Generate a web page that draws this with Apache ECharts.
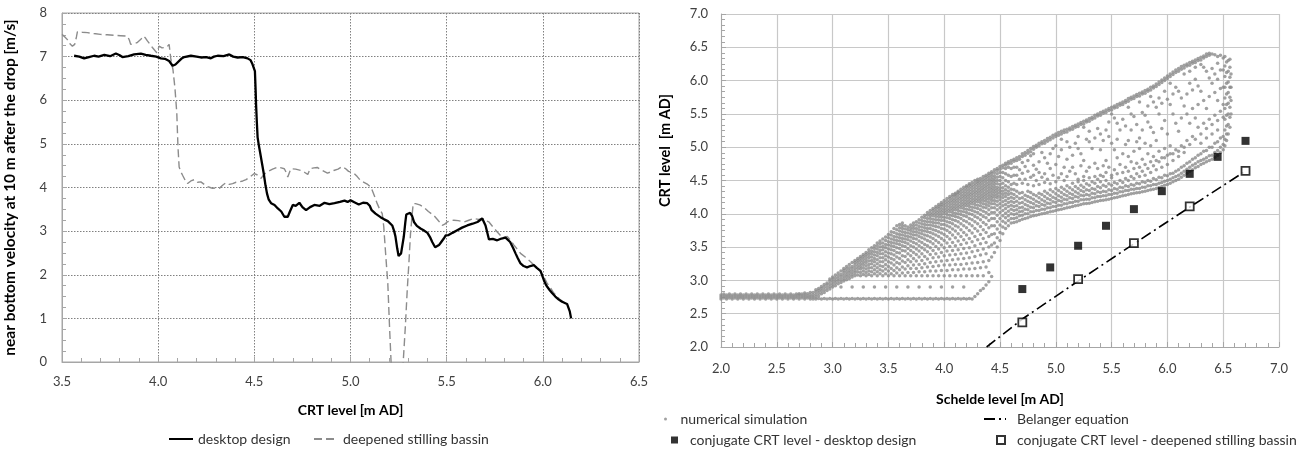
<!DOCTYPE html>
<html><head><meta charset="utf-8">
<script src="https://cdn.jsdelivr.net/npm/echarts@6/dist/echarts.min.js"></script>
<style>html,body{margin:0;padding:0;background:#fff}#c{width:1311px;height:454px}</style>
</head><body><div id="c"></div>
<script>
// ---------- Left chart data ----------
const desktopCRT = [3.563,3.59,3.615,3.64,3.667,3.69,3.72,3.75,3.78,3.80,3.814,3.845,3.875,3.91,3.935,3.962,3.99,4.014,4.035,4.057,4.075,4.09,4.10,4.12,4.135,4.17,4.2,4.222,4.25,4.274,4.29,4.309,4.34,4.37,4.39,4.413,4.44,4.465,4.48,4.49,4.503,4.507,4.509,4.513,4.517,4.524,4.531,4.54,4.549,4.558,4.566,4.575,4.587,4.605,4.622,4.64,4.656,4.665,4.674,4.685,4.70,4.715,4.734,4.75,4.769,4.79,4.812,4.84,4.865,4.89,4.917,4.945,4.969,4.985,5.0,5.02,5.043,5.065,5.087,5.1,5.11,5.13,5.156,5.175,5.194,5.217,5.227,5.234,5.243,5.25,5.263,5.277,5.285,5.29,5.31,5.32,5.33,5.345,5.364,5.38,5.4,5.415,5.425,5.44,5.46,5.47,5.485,5.495,5.51,5.53,5.555,5.58,5.607,5.635,5.66,5.685,5.702,5.712,5.72,5.74,5.763,5.785,5.806,5.83,5.845,5.858,5.87,5.884,5.9,5.918,5.935,5.953,5.97,5.988,6.005,6.015,6.022,6.035,6.048,6.065,6.083,6.1,6.126,6.14,6.147];
const desktopVel = [7.02,7.0,6.96,6.99,7.02,7.0,7.04,7.01,7.07,7.03,6.99,7.01,7.05,7.07,7.04,7.02,7.0,6.96,6.95,6.90,6.79,6.82,6.86,6.95,6.99,7.02,7.0,6.98,6.99,6.96,7.0,7.02,7.01,7.05,7.0,6.98,6.99,6.96,6.92,6.83,6.67,6.2,5.91,5.5,5.15,4.95,4.78,4.55,4.32,4.05,3.86,3.72,3.64,3.6,3.52,3.45,3.33,3.3,3.33,3.45,3.6,3.58,3.65,3.55,3.48,3.55,3.6,3.58,3.65,3.62,3.64,3.67,3.70,3.67,3.71,3.66,3.61,3.65,3.64,3.58,3.48,3.4,3.32,3.27,3.23,3.13,3.0,2.87,2.6,2.43,2.49,2.87,3.2,3.38,3.42,3.35,3.21,3.12,3.06,3.02,2.96,2.85,2.75,2.63,2.68,2.74,2.83,2.9,2.91,2.96,3.02,3.08,3.13,3.17,3.21,3.29,3.13,2.95,2.81,2.82,2.79,2.83,2.85,2.75,2.62,2.49,2.38,2.26,2.2,2.17,2.2,2.22,2.15,2.09,1.88,1.78,1.73,1.65,1.58,1.5,1.43,1.38,1.33,1.16,1.0];
const deepenedCRT = [3.50,3.515,3.528,3.54,3.554,3.566,3.575,3.58,3.605,3.632,3.665,3.70,3.735,3.77,3.805,3.84,3.85,3.857,3.875,3.89,3.91,3.924,3.935,3.944,3.958,3.97,3.983,3.993,4.005,4.02,4.03,4.045,4.057,4.066,4.077,4.087,4.092,4.097,4.10,4.103,4.106,4.109,4.118,4.127,4.14,4.153,4.17,4.188,4.205,4.222,4.24,4.257,4.27,4.283,4.3,4.318,4.335,4.352,4.37,4.387,4.405,4.422,4.44,4.457,4.48,4.50,4.52,4.535,4.55,4.569,4.595,4.622,4.64,4.656,4.665,4.674,4.683,4.69,4.715,4.743,4.76,4.778,4.79,4.81,4.827,4.85,4.88,4.9,4.913,4.935,4.957,4.975,4.99,5.017,5.035,5.052,5.07,5.087,5.1,5.11,5.125,5.139,5.152,5.165,5.173,5.184,5.194,5.203,5.211,5.22,5.265,5.274,5.285,5.295,5.304,5.312,5.32,5.326,5.338,5.36,5.381,5.405,5.433,5.455,5.477,5.49,5.503,5.52,5.537,5.56,5.59,5.615,5.64,5.665,5.685,5.70,5.72,5.74,5.763,5.78,5.79,5.815,5.83,5.85,5.868,5.884,5.91,5.936,5.96,5.988,6.005,6.022,6.04,6.057,6.075,6.09,6.11,6.126];
const deepenedVel = [7.51,7.45,7.39,7.3,7.24,7.28,7.45,7.57,7.56,7.55,7.53,7.51,7.50,7.49,7.48,7.47,7.38,7.28,7.3,7.32,7.4,7.47,7.42,7.36,7.28,7.21,7.14,7.09,7.24,7.2,7.17,7.22,7.28,6.94,6.7,6.29,6.0,5.69,5.3,4.93,4.7,4.47,4.36,4.28,4.17,4.09,4.15,4.18,4.12,4.13,4.07,4.02,4.0,3.98,3.99,3.98,4.05,4.11,4.07,4.09,4.12,4.13,4.15,4.18,4.25,4.32,4.28,4.21,4.3,4.36,4.42,4.47,4.45,4.43,4.35,4.24,4.35,4.43,4.42,4.39,4.35,4.30,4.43,4.45,4.46,4.4,4.33,4.36,4.39,4.42,4.48,4.43,4.37,4.33,4.25,4.16,4.12,4.08,4.03,3.97,3.8,3.63,3.5,3.40,3.10,2.4,1.80,0.8,0,-0.6,-0.6,0,0.8,1.65,2.3,2.94,3.35,3.63,3.63,3.6,3.55,3.45,3.36,3.25,3.13,3.16,3.21,3.24,3.25,3.24,3.21,3.25,3.29,3.27,3.29,3.25,3.21,3.1,2.98,2.9,2.85,2.88,2.8,2.68,2.58,2.49,2.4,2.30,2.2,2.07,1.95,1.81,1.7,1.58,1.5,1.43,1.37,1.31];

// ---------- Right chart data ----------
// numerical simulation, read column by column: [Schelde level, CRT levels seen at that Schelde level...]
const simColumns = [
[2.000,2.72,2.75,2.78],[2.025,2.735,2.765,2.795],[2.050,2.72,2.75,2.78],[2.075,2.735,2.765,2.795],
[2.100,2.72,2.75,2.78],[2.125,2.735,2.765,2.795],[2.150,2.72,2.75,2.78],[2.175,2.735,2.765,2.795],
[2.200,2.72,2.75,2.78],[2.225,2.735,2.765,2.795],[2.250,2.72,2.75,2.78],[2.275,2.735,2.765,2.795],
[2.300,2.72,2.75,2.78],[2.325,2.735,2.765,2.795],[2.350,2.72,2.75,2.78],[2.375,2.735,2.765,2.795],
[2.400,2.72,2.75,2.78],[2.425,2.735,2.765,2.795],[2.450,2.72,2.75,2.78],[2.475,2.735,2.765,2.795],
[2.500,2.72,2.75,2.78],[2.525,2.735,2.765,2.795],[2.550,2.72,2.75,2.78],[2.575,2.735,2.765,2.795],
[2.600,2.72,2.75,2.78],[2.625,2.735,2.765,2.795],[2.650,2.72,2.75,2.78],[2.675,2.735,2.765,2.795],
[2.700,2.72,2.75,2.78,2.80],[2.725,2.735,2.765,2.795],[2.750,2.72,2.75,2.78,2.81],[2.775,2.735,2.765,2.80],
[2.800,2.72,2.75,2.78,2.82],[2.825,2.72,2.75,2.78,2.82],
[2.85,2.72,2.75,2.79,2.83,2.86],[2.875,2.73,2.77,2.81,2.85,2.88],
[2.9,2.72,2.8,2.84,2.88,2.91],[2.925,2.73,2.82,2.86,2.9,2.94],
[2.95,2.72,2.85,2.89,2.93,2.96],[2.975,2.73,2.87,2.91,2.95,2.99,3.02],
[3.0,2.72,2.9,2.94,2.98,3.02,3.05],[3.025,2.73,2.92,2.96,3.0,3.04,3.08],
[3.05,2.72,2.95,2.99,3.03,3.07,3.11],[3.075,2.73,2.9,2.97,3.01,3.05,3.09,3.14],
[3.1,2.72,2.99,3.03,3.07,3.11,3.15,3.18],[3.125,2.73,3.01,3.05,3.09,3.13,3.17,3.21],
[3.15,2.72,3.03,3.07,3.11,3.15,3.19,3.24],[3.175,2.73,2.9,3.05,3.09,3.13,3.17,3.21,3.27],
[3.2,2.72,3.07,3.11,3.15,3.19,3.23,3.27,3.3],[3.225,2.73,3.08,3.13,3.18,3.22,3.26,3.3,3.33],
[3.25,2.72,3.07,3.12,3.17,3.21,3.25,3.29,3.33,3.36],[3.275,2.73,2.9,3.09,3.14,3.19,3.24,3.28,3.32,3.36,3.39],
[3.3,2.72,3.07,3.12,3.17,3.22,3.27,3.31,3.35,3.39,3.42],[3.325,2.73,3.09,3.14,3.19,3.24,3.29,3.34,3.38,3.42,3.46],
[3.35,2.72,3.07,3.13,3.19,3.25,3.3,3.35,3.4,3.44,3.49],[3.375,2.73,2.9,3.1,3.16,3.22,3.28,3.33,3.38,3.43,3.48,3.52],
[3.4,2.72,3.07,3.13,3.19,3.25,3.31,3.37,3.42,3.47,3.52,3.56],[3.425,2.73,3.1,3.16,3.22,3.28,3.34,3.4,3.45,3.5,3.55,3.59],
[3.45,2.72,3.07,3.14,3.21,3.28,3.34,3.4,3.46,3.51,3.56,3.62],[3.475,2.73,2.9,3.1,3.17,3.24,3.31,3.37,3.43,3.49,3.54,3.6,3.65],
[3.5,2.72,3.07,3.14,3.21,3.28,3.35,3.41,3.47,3.53,3.58,3.64,3.69],[3.525,2.73,3.1,3.18,3.26,3.33,3.4,3.46,3.52,3.57,3.62,3.68,3.73],
[3.55,2.72,3.07,3.15,3.23,3.31,3.38,3.45,3.51,3.56,3.61,3.66,3.72,3.78],[3.575,2.73,2.9,3.11,3.19,3.27,3.35,3.42,3.49,3.55,3.6,3.65,3.7,3.76,3.82],
[3.6,2.72,3.07,3.16,3.25,3.33,3.41,3.48,3.54,3.59,3.64,3.69,3.74,3.79,3.84],[3.625,2.73,3.11,3.2,3.29,3.37,3.45,3.52,3.58,3.63,3.68,3.73,3.78,3.82,3.86],
[3.65,2.72,3.07,3.17,3.27,3.36,3.44,3.51,3.57,3.62,3.67,3.72,3.77,3.82],[3.675,2.73,2.9,3.12,3.22,3.31,3.4,3.48,3.55,3.61,3.66,3.71,3.76,3.8],
[3.7,2.72,3.07,3.18,3.28,3.37,3.45,3.52,3.59,3.65,3.7,3.75,3.79,3.83],[3.725,2.73,3.12,3.23,3.33,3.42,3.5,3.57,3.63,3.68,3.73,3.78,3.82,3.86],
[3.75,2.72,3.07,3.18,3.29,3.39,3.47,3.55,3.62,3.68,3.73,3.78,3.83,3.88],[3.775,2.73,2.9,3.13,3.24,3.35,3.44,3.52,3.59,3.66,3.71,3.76,3.81,3.86,3.91],
[3.8,2.72,3.07,3.19,3.3,3.4,3.49,3.57,3.64,3.7,3.75,3.8,3.85,3.9,3.95],[3.825,2.73,3.13,3.25,3.36,3.46,3.54,3.62,3.68,3.74,3.79,3.84,3.89,3.94,3.98],
[3.85,2.72,3.07,3.2,3.32,3.43,3.52,3.6,3.67,3.73,3.78,3.83,3.88,3.93,3.98,4.02],[3.875,2.73,2.9,3.14,3.27,3.39,3.49,3.58,3.65,3.72,3.78,3.83,3.88,3.93,3.97,4.01,4.05],
[3.9,2.72,3.07,3.21,3.34,3.45,3.55,3.63,3.7,3.76,3.82,3.87,3.92,3.97,4.01,4.05,4.08],[3.925,2.73,3.14,3.28,3.4,3.51,3.6,3.68,3.75,3.81,3.86,3.91,3.96,4.0,4.04,4.08,4.11],
[3.95,2.72,3.07,3.22,3.35,3.47,3.57,3.66,3.73,3.8,3.86,3.91,3.96,4.0,4.04,4.08,4.11,4.14],[3.975,2.73,2.9,3.15,3.29,3.42,3.53,3.63,3.71,3.78,3.84,3.9,3.95,3.99,4.03,4.07,4.11,4.14,4.17],
[4.0,2.72,3.07,3.23,3.37,3.49,3.6,3.69,3.77,3.84,3.9,3.95,4.0,4.04,4.08,4.12,4.16,4.2],[4.025,2.73,3.15,3.3,3.44,3.56,3.66,3.75,3.82,3.88,3.94,3.99,4.03,4.07,4.11,4.15,4.19,4.23],
[4.05,2.72,3.07,3.23,3.38,3.51,3.62,3.72,3.8,3.87,3.93,3.98,4.03,4.07,4.11,4.15,4.19,4.23,4.26],[4.075,2.73,2.9,3.16,3.31,3.45,3.57,3.68,3.77,3.85,3.91,3.97,4.02,4.06,4.1,4.14,4.18,4.22,4.26,4.29],
[4.1,2.72,3.07,3.24,3.39,3.52,3.64,3.74,3.82,3.9,3.96,4.01,4.06,4.1,4.14,4.18,4.22,4.26,4.29,4.31],[4.125,2.73,3.16,3.32,3.46,3.59,3.7,3.8,3.88,3.95,4.0,4.05,4.09,4.13,4.17,4.21,4.25,4.29,4.32,4.34],
[4.15,2.72,3.07,3.24,3.4,3.54,3.66,3.76,3.85,3.93,3.99,4.04,4.09,4.13,4.17,4.21,4.25,4.29,4.33,4.37],[4.175,2.73,2.9,3.17,3.33,3.48,3.61,3.72,3.82,3.9,3.97,4.03,4.08,4.12,4.16,4.2,4.24,4.28,4.32,4.36,4.4],
[4.2,2.72,3.07,3.25,3.41,3.56,3.68,3.79,3.88,3.96,4.02,4.07,4.12,4.16,4.2,4.24,4.28,4.32,4.36,4.4,4.42],[4.225,2.73,3.17,3.34,3.49,3.63,3.75,3.85,3.93,4.0,4.06,4.11,4.15,4.19,4.23,4.27,4.31,4.35,4.39,4.43,4.45],
[4.25,2.72,3.07,3.26,3.43,3.58,3.71,3.82,3.91,3.99,4.05,4.1,4.15,4.19,4.23,4.27,4.31,4.35,4.39,4.43,4.47],[4.275,2.76,3.18,3.36,3.52,3.66,3.78,3.88,3.96,4.03,4.09,4.14,4.18,4.22,4.26,4.3,4.34,4.38,4.42,4.46,4.5],
[4.3,2.8,3.07,3.27,3.45,3.61,3.74,3.85,3.94,4.02,4.08,4.13,4.18,4.22,4.26,4.3,4.34,4.38,4.42,4.46,4.49,4.52],[4.325,2.85,3.19,3.38,3.55,3.69,3.81,3.91,3.99,4.06,4.12,4.17,4.21,4.25,4.29,4.33,4.37,4.41,4.45,4.49,4.53],
[4.35,2.88,3.07,3.28,3.47,3.63,3.76,3.87,3.96,4.04,4.1,4.15,4.2,4.24,4.28,4.32,4.36,4.4,4.44,4.48,4.52,4.56],[4.375,2.93,3.2,3.4,3.57,3.72,3.84,3.94,4.02,4.09,4.14,4.19,4.23,4.27,4.31,4.35,4.39,4.43,4.47,4.51,4.55,4.58],
[4.4,2.98,3.12,3.3,3.5,3.66,3.79,3.9,3.99,4.06,4.12,4.17,4.22,4.26,4.3,4.34,4.38,4.42,4.46,4.5,4.54,4.58,4.61],[4.425,3.06,3.35,3.53,3.69,3.82,3.93,4.02,4.09,4.15,4.2,4.24,4.28,4.32,4.36,4.4,4.44,4.48,4.52,4.56,4.6,4.63],
[4.45,3.42,3.56,3.7,3.82,3.93,4.02,4.09,4.15,4.2,4.25,4.29,4.33,4.37,4.41,4.45,4.49,4.53,4.57,4.62,4.66],[4.475,3.5,3.64,3.77,3.88,3.98,4.06,4.13,4.19,4.24,4.28,4.32,4.36,4.4,4.45,4.5,4.55,4.6,4.65,4.68],
[4.5,3.6,3.72,3.83,3.93,4.02,4.09,4.15,4.21,4.26,4.31,4.35,4.39,4.44,4.5,4.56,4.62,4.67,4.71],[4.525,3.7,3.8,3.89,3.97,4.05,4.12,4.18,4.24,4.29,4.34,4.39,4.46,4.54,4.62,4.69,4.73],
[4.55,3.78,3.86,3.94,4.01,4.08,4.14,4.2,4.26,4.31,4.36,4.42,4.5,4.6,4.68,4.73,4.76],[4.575,3.82,3.9,3.97,4.04,4.11,4.17,4.23,4.29,4.34,4.4,4.48,4.58,4.7,4.75,4.78],
[4.6,3.86,3.93,4.0,4.07,4.13,4.19,4.25,4.31,4.37,4.44,4.56,4.68,4.76,4.8],[4.625,3.87,3.93,3.99,4.05,4.11,4.17,4.23,4.29,4.36,4.46,4.58,4.7,4.79,4.82],
[4.65,3.88,3.94,4.0,4.06,4.12,4.19,4.26,4.34,4.44,4.58,4.7,4.8,4.84],[4.675,3.9,3.97,4.03,4.09,4.16,4.23,4.31,4.52,4.66,4.82,4.86],
[4.7,3.92,3.98,4.04,4.1,4.17,4.24,4.32,4.46,4.61,4.77,4.86,4.9],[4.725,3.93,4.0,4.07,4.14,4.21,4.28,4.52,4.71,4.88,4.92],
[4.75,3.94,4.0,4.06,4.12,4.19,4.26,4.34,4.44,4.64,4.8,4.91,4.95],[4.775,3.96,4.03,4.1,4.17,4.24,4.32,4.55,4.87,4.93,4.98],
[4.8,3.97,4.03,4.09,4.15,4.22,4.29,4.42,4.58,4.73,4.9,4.97,5.01],[4.825,3.98,4.05,4.12,4.19,4.27,4.5,4.67,5.0,5.03],
[4.85,3.99,4.05,4.11,4.17,4.24,4.31,4.44,4.62,4.78,5.02,5.06],[4.875,4.0,4.07,4.14,4.21,4.29,4.55,4.92,5.05,5.08],
[4.9,4.01,4.07,4.13,4.19,4.26,4.34,4.47,4.6,4.84,5.06,5.1],[4.925,4.02,4.09,4.16,4.23,4.31,4.52,4.76,5.09,5.13],
[4.95,4.03,4.09,4.15,4.21,4.28,4.36,4.45,4.68,4.9,5.11,5.15],[4.975,4.04,4.11,4.18,4.25,4.33,4.58,4.98,5.14,5.18],
[5.0,4.05,4.11,4.17,4.23,4.3,4.38,4.48,4.74,5.02,5.16,5.2],[5.025,4.06,4.13,4.2,4.27,4.35,4.54,4.86,5.18,5.22],
[5.05,4.07,4.13,4.19,4.25,4.32,4.4,4.6,4.96,5.12,5.2,5.24],[5.075,4.08,4.15,4.22,4.29,4.37,4.5,4.7,5.22,5.26],
[5.1,4.09,4.15,4.21,4.27,4.34,4.42,4.56,4.82,5.08,5.23,5.27],[5.125,4.1,4.17,4.24,4.31,4.39,4.64,5.0,5.26,5.29],
[5.15,4.11,4.17,4.23,4.29,4.36,4.46,4.7,4.88,5.27,5.31],[5.175,4.12,4.19,4.26,4.33,4.41,4.6,5.06,5.3,5.33],
[5.2,4.13,4.19,4.25,4.31,4.38,4.48,4.52,4.98,5.16,5.31,5.35],[5.225,4.14,4.21,4.28,4.35,4.43,4.72,4.9,5.34,5.37],
[5.25,4.15,4.21,4.27,4.33,4.4,4.5,4.56,4.8,5.3,5.35,5.39],[5.275,4.155,4.22,4.29,4.36,4.45,4.64,5.12,5.38,5.41],
[5.3,4.16,4.22,4.28,4.35,4.43,4.54,4.7,5.08,5.24,5.39,5.43],[5.325,4.17,4.24,4.31,4.38,4.48,4.98,5.42,5.45],
[5.35,4.18,4.24,4.3,4.37,4.46,4.56,4.76,5.14,5.44,5.48],[5.375,4.19,4.26,4.33,4.41,4.52,4.68,5.28,5.47,5.5],
[5.4,4.2,4.26,4.32,4.39,4.48,4.58,4.96,5.2,5.48,5.52],[5.425,4.205,4.27,4.34,4.43,4.56,4.72,5.1,5.51,5.54],
[5.45,4.21,4.27,4.33,4.41,4.5,4.62,4.8,5.26,5.52,5.56],[5.475,4.22,4.29,4.36,4.45,4.7,5.16,5.38,5.55,5.58],
[5.5,4.23,4.29,4.35,4.43,4.54,4.58,5.06,5.5,5.56,5.6],[5.525,4.24,4.31,4.38,4.47,4.66,4.96,5.44,5.59,5.62],
[5.55,4.25,4.31,4.37,4.45,4.6,4.84,5.12,5.36,5.6,5.64],[5.575,4.26,4.33,4.4,4.5,4.74,5.26,5.63,5.66],
[5.6,4.27,4.33,4.39,4.47,4.62,4.9,5.42,5.64,5.68],[5.625,4.28,4.35,4.42,4.53,4.7,5.04,5.32,5.67,5.7],
[5.65,4.29,4.35,4.41,4.5,4.64,4.86,5.1,5.6,5.69,5.73],[5.675,4.3,4.37,4.44,4.56,4.78,5.26,5.5,5.72,5.75],
[5.7,4.31,4.37,4.43,4.53,4.68,4.94,5.46,5.73,5.77],[5.725,4.315,4.38,4.46,4.6,4.76,5.08,5.34,5.76,5.79],
[5.75,4.32,4.38,4.45,4.56,4.7,4.98,5.14,5.68,5.77,5.81],[5.775,4.33,4.4,4.48,4.64,4.82,5.26,5.52,5.8,5.83],
[5.8,4.34,4.4,4.47,4.58,4.74,5.06,5.48,5.81,5.85],[5.825,4.35,4.42,4.5,4.68,4.9,5.38,5.62,5.84,5.87],
[5.85,4.36,4.42,4.49,4.62,4.78,5.02,5.3,5.76,5.86,5.9],[5.875,4.37,4.44,4.53,4.72,4.86,5.22,5.68,5.89,5.92],
[5.9,4.38,4.44,4.51,4.66,4.8,5.1,5.6,5.91,5.95],[5.925,4.395,4.46,4.55,4.78,4.94,5.5,5.74,5.94,5.98],
[5.95,4.41,4.47,4.54,4.7,4.84,5.28,5.66,5.97,6.01],[5.975,4.43,4.49,4.58,4.84,4.98,5.4,5.84,6.0,6.04],
[6.0,4.44,4.5,4.57,4.74,4.88,5.2,5.72,6.03,6.07],[6.025,4.46,4.52,4.6,4.9,5.02,5.64,5.96,6.06,6.1],
[6.05,4.48,4.54,4.61,4.8,4.9,5.5,5.8,6.09,6.13],[6.075,4.5,4.56,4.64,4.96,5.36,5.9,6.12,6.16],
[6.1,4.52,4.58,4.66,4.86,4.94,5.24,5.84,6.14,6.18],[6.125,4.55,4.61,4.7,5.02,5.44,5.74,6.17,6.21],
[6.15,4.58,4.64,4.72,4.92,5.0,5.62,6.1,6.19,6.23],[6.175,4.61,4.67,4.76,5.1,5.5,5.8,6.22,6.25],
[6.2,4.64,4.7,4.78,5.04,5.36,5.96,6.14,6.23,6.27],[6.225,4.66,4.73,4.82,5.16,5.58,5.86,6.26,6.29],
[6.25,4.69,4.75,4.84,5.12,5.44,6.02,6.2,6.27,6.31],[6.275,4.71,4.78,4.88,5.3,5.64,5.92,6.3,6.33],
[6.3,4.74,4.8,4.9,5.06,5.2,5.84,6.24,6.31,6.35],[6.325,4.76,4.82,4.94,5.36,5.7,6.2,6.34,6.37],
[6.35,4.78,4.84,4.95,5.14,5.28,5.58,6.14,6.36,6.4],[6.375,4.8,4.87,5.0,5.42,5.76,6.04,6.38,6.41],
[6.4,4.82,4.88,5.0,5.2,5.34,5.96,6.18,6.4],[6.425,4.85,4.92,5.06,5.48,5.82,6.1,6.39],
[6.45,4.88,4.95,5.08,5.26,5.4,5.7,6.02,6.26,6.36],[6.475,4.92,5.0,5.14,5.54,5.88,6.16,6.38],
[6.5,4.96,5.04,5.16,5.45,5.64,5.9,6.16,6.34],[6.515,5.02,5.12,5.26,5.42,5.58,5.74,5.9,6.06,6.22,6.36],
[6.53,5.1,5.2,5.32,5.48,5.64,5.8,5.96,6.12,6.28],[6.545,5.2,5.34,5.5,5.66,5.82,5.98,6.14,6.3],
[6.56,5.3,5.45,5.6,5.75,5.9,6.05,6.2,6.32],[6.57,5.5,5.7,5.9,6.1]
];
const belangerSchelde = [4.38,4.7,5.2,5.7,6.2,6.68];
const belangerCRT     = [2.0,2.42,2.99,3.55,4.1,4.62];
const conjDesktopSchelde = [4.7,4.95,5.2,5.45,5.7,5.95,6.2,6.45,6.7];
const conjDesktopCRT     = [2.87,3.195,3.52,3.82,4.07,4.34,4.6,4.855,5.095];
const conjDeepSchelde = [4.7,5.2,5.7,6.2,6.7];
const conjDeepCRT     = [2.37,3.02,3.56,4.11,4.645];

// ---------- build ----------
const zip = (a, b) => a.map((v, i) => [v, b[i]]);
const simPoints = [];
simColumns.forEach(col => { for (let i = 1; i < col.length; i++) simPoints.push([col[0], col[i]]); });

const FONT = 'Lato, "Open Sans", "DejaVu Sans", sans-serif';
const fmt1 = v => v.toFixed(1);
const labelColor = '#404040';
const axisGray = '#a6a6a6';
const legendText = { fontSize: 14, color: '#333', fontFamily: FONT };

const chart = echarts.init(document.getElementById('c'));
chart.setOption({
  animation: false,
  textStyle: { fontFamily: FONT },
  grid: [
    { left: 62, top: 13, width: 577, height: 349, show: true, borderColor: axisGray, borderWidth: 1, backgroundColor: 'transparent' },
    { left: 721, top: 14, width: 558, height: 333 }
  ],
  xAxis: [
    { gridIndex: 0, type: 'value', min: 3.5, max: 6.5, interval: 0.5,
      name: 'CRT level [m AD]', nameLocation: 'middle', nameGap: 41,
      nameTextStyle: { fontWeight: 'bold', fontSize: 14, color: '#000', fontFamily: FONT },
      axisLine: { show: true, lineStyle: { color: axisGray } },
      axisTick: { show: true, inside: true, length: 5, lineStyle: { color: axisGray } },
      minorTick: { show: true, splitNumber: 5, length: 4, lineStyle: { color: axisGray } },
      axisLabel: { formatter: fmt1, margin: 13, fontSize: 13, color: labelColor, fontFamily: FONT },
      splitLine: { show: true, lineStyle: { color: '#808080', type: [1.5, 1.5], width: 1 } } },
    { gridIndex: 1, type: 'value', min: 2, max: 7, interval: 0.5,
      name: 'Schelde level [m AD]', nameLocation: 'middle', nameGap: 45,
      nameTextStyle: { fontWeight: 'bold', fontSize: 14, color: '#000', fontFamily: FONT },
      axisLine: { show: true, lineStyle: { color: axisGray } },
      axisTick: { show: true, inside: true, length: 5, lineStyle: { color: axisGray } },
      minorTick: { show: true, splitNumber: 5, length: 4, lineStyle: { color: axisGray } },
      axisLabel: { formatter: fmt1, margin: 15, fontSize: 13, color: labelColor, fontFamily: FONT },
      splitLine: { show: true, lineStyle: { color: '#c8c8c8', width: 1.2 } } }
  ],
  yAxis: [
    { gridIndex: 0, type: 'value', min: 0, max: 8, interval: 1,
      name: 'near bottom velocity at 10 m after the drop [m/s]', nameLocation: 'middle', nameGap: 44,
      nameTextStyle: { fontWeight: 'bold', fontSize: 15.5, color: '#000', fontFamily: FONT },
      axisLine: { show: true, lineStyle: { color: axisGray } },
      axisTick: { show: true, inside: true, length: 5, lineStyle: { color: axisGray } },
      minorTick: { show: true, splitNumber: 4, length: 4, lineStyle: { color: axisGray } },
      axisLabel: { margin: 15, fontSize: 13, color: labelColor, fontFamily: FONT },
      splitLine: { show: true, lineStyle: { color: '#808080', type: [1.5, 1.5], width: 1 } } },
    { gridIndex: 1, type: 'value', min: 2, max: 7, interval: 0.5,
      name: 'CRT level  [m AD]', nameLocation: 'middle', nameGap: 48,
      nameTextStyle: { fontWeight: 'bold', fontSize: 14.5, color: '#000', fontFamily: FONT, padding: [0, 0, 0, 60] },
      axisLine: { show: true, lineStyle: { color: axisGray } },
      axisTick: { show: true, inside: true, length: 5, lineStyle: { color: axisGray } },
      minorTick: { show: true, splitNumber: 6, length: 4, lineStyle: { color: axisGray } },
      axisLabel: { formatter: fmt1, margin: 13, fontSize: 13, color: labelColor, fontFamily: FONT },
      splitLine: { show: true, lineStyle: { color: '#c8c8c8', width: 1.2 } } }
  ],
  legend: [
    { data: ['desktop design'], left: 168, top: 432, padding: 0, itemWidth: 24, itemHeight: 2,
      itemStyle: { opacity: 0 }, textStyle: legendText },
    { data: ['deepened stilling bassin'], left: 313, top: 432, padding: 0, itemWidth: 24, itemHeight: 2,
      itemStyle: { opacity: 0 }, textStyle: legendText },
    { data: ['numerical simulation'], left: 664, top: 412, padding: 0, itemWidth: 20, itemHeight: 3,
      textStyle: legendText },
    { data: ['Belanger equation'], left: 983, top: 412, padding: 0, itemWidth: 22, itemHeight: 2,
      itemStyle: { opacity: 0 }, textStyle: Object.assign({ padding: [0, 0, 0, 6] }, legendText) },
    { data: ['conjugate CRT level - desktop design'], left: 671, top: 433, padding: 0, itemWidth: 7, itemHeight: 7,
      textStyle: Object.assign({ padding: [0, 0, 0, 7] }, legendText) },
    { data: ['conjugate CRT level - deepened stilling bassin'], left: 996, top: 433, padding: 0, itemWidth: 8, itemHeight: 8,
      textStyle: Object.assign({ padding: [0, 0, 0, 7] }, legendText) }
  ],
  series: [
    { name: 'deepened stilling bassin', type: 'line', xAxisIndex: 0, yAxisIndex: 0,
      data: zip(deepenedCRT, deepenedVel), symbol: 'none', showSymbol: false, z: 2,
      lineStyle: { color: '#8c8c8c', width: 1.4, type: [8, 4] }, itemStyle: { color: '#8c8c8c' } },
    { name: 'desktop design', type: 'line', xAxisIndex: 0, yAxisIndex: 0,
      data: zip(desktopCRT, desktopVel), symbol: 'none', showSymbol: false, z: 3,
      lineStyle: { color: '#000', width: 2.3 }, itemStyle: { color: '#000' } },
    { name: 'numerical simulation', type: 'scatter', xAxisIndex: 1, yAxisIndex: 1,
      data: simPoints, symbol: 'circle', symbolSize: 3.5, silent: true, z: 2,
      itemStyle: { color: '#8a8a8a' } },
    { name: 'Belanger equation', type: 'line', xAxisIndex: 1, yAxisIndex: 1,
      data: zip(belangerSchelde, belangerCRT), symbol: 'none', showSymbol: false, z: 3,
      lineStyle: { color: '#000', width: 1.6, type: [11, 4, 2, 4] }, itemStyle: { color: '#000' } },
    { name: 'conjugate CRT level - desktop design', type: 'scatter', xAxisIndex: 1, yAxisIndex: 1,
      data: zip(conjDesktopSchelde, conjDesktopCRT), symbol: 'rect', symbolSize: 8, z: 4,
      itemStyle: { color: '#000' } },
    { name: 'conjugate CRT level - deepened stilling bassin', type: 'scatter', xAxisIndex: 1, yAxisIndex: 1,
      data: zip(conjDeepSchelde, conjDeepCRT), symbol: 'rect', symbolSize: 8, z: 4,
      itemStyle: { color: '#fff', borderColor: '#000', borderWidth: 1.8 } }
  ]
});
</script></body></html>
